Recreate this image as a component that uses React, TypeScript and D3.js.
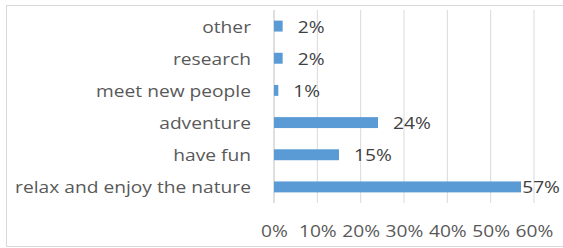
import * as d3 from "d3";
import { useRef, useEffect } from "react";

const categories = [
  "other",
  "research",
  "meet new people",
  "adventure",
  "have fun",
  "relax and enjoy the nature",
];
const values = [0.02, 0.02, 0.01, 0.24, 0.15, 0.57];
const valueLabels = ["2%", "2%", "1%", "24%", "15%", "57%"];
const xTicks = [0, 0.1, 0.2, 0.3, 0.4, 0.5, 0.6];

const W = 563;
const H = 248;
const FONT = "'Open Sans', sans-serif";
const SX = 1.13; // the reference text is a bit wider than Open Sans

export default function App() {
  const gx = useRef<SVGGElement>(null);

  const x = d3.scaleLinear().domain([0, 0.6]).range([274, 534]);
  const y = d3
    .scaleBand()
    .domain(categories)
    .range([10, 203])
    .paddingInner(0.66)
    .paddingOuter(0.33);

  useEffect(() => {
    d3.select(gx.current)
      .call(
        d3
          .axisBottom(x)
          .tickValues(xTicks)
          .tickSize(0)
          .tickFormat(d3.format(".0%"))
      )
      .call((g) => g.select(".domain").remove())
      .call((g) =>
        g
          .selectAll(".tick text")
          .attr("fill", "#595959")
          .attr("font-family", FONT)
          .attr("font-size", 17)
          .attr("dy", "0.71em")
          .attr("transform", `scale(${SX},1)`)
      );
  });

  return (
    <svg
      width={W}
      height={H}
      style={{ position: "absolute", left: 0, top: 0, background: "#fff" }}
    >
      <rect x={6.5} y={5.5} width={600} height={241} fill="#fff" stroke="#d9d9d9" />
      {xTicks.slice(1).map((t) => (
        <line key={t} x1={x(t)} x2={x(t)} y1={10} y2={203} stroke="#d9d9d9" strokeWidth={1} />
      ))}
      <line x1={x(0)} x2={x(0)} y1={10} y2={203} stroke="#bfbfbf" strokeWidth={1} />
      {categories.map((c, i) => {
        const end = x(values[i]);
        const cy = y(c)! + y.bandwidth() / 2;
        const fits = end + 15 + 38 <= 560;
        return (
          <g key={c}>
            <rect x={x(0)} y={y(c)} width={end - x(0)} height={y.bandwidth()} fill="#5b9bd5" />
            <text
              transform={`translate(251,${cy}) scale(${SX},1)`}
              dy="0.38em"
              textAnchor="end"
              fill="#595959"
              fontFamily={FONT}
              fontSize={17}
            >
              {c}
            </text>
            <text
              transform={`translate(${fits ? end + 15 : 560},${cy}) scale(${SX},1)`}
              dy="0.38em"
              textAnchor={fits ? "start" : "end"}
              fill="#404040"
              fontFamily={FONT}
              fontSize={17}
            >
              {valueLabels[i]}
            </text>
          </g>
        );
      })}
      <g ref={gx} transform="translate(0, 222)" />
    </svg>
  );
}
